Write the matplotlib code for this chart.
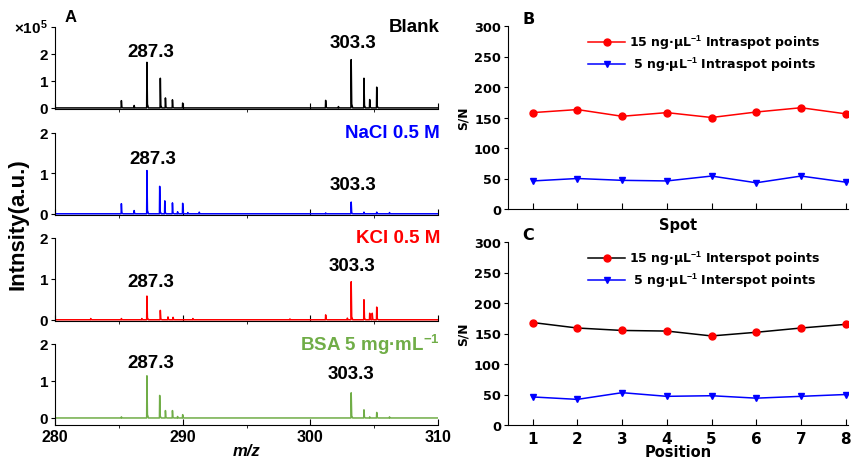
import matplotlib
matplotlib.use("Agg")
import matplotlib.pyplot as plt
import numpy as np

plt.rcParams['font.family'] = ['Liberation Sans', 'DejaVu Sans']
plt.rcParams['font.weight'] = 'bold'
plt.rcParams['mathtext.fontset'] = 'custom'
plt.rcParams['mathtext.rm'] = 'Liberation Sans:bold'
plt.rcParams['mathtext.bf'] = 'Liberation Sans:bold'
plt.rcParams['mathtext.it'] = 'Liberation Sans:bold:italic'
plt.rcParams['mathtext.default'] = 'bf'

WIDE = ['DejaVu Sans']

# ---------------- data: mass spectra (peak m/z and intensity, x10^5) ----------------
blank_mz = [285.2, 286.2, 287.2, 288.25, 288.65, 289.2, 290.0, 301.2, 302.2, 303.2, 304.2, 304.65, 305.2]
blank_int = [0.27, 0.09, 1.69, 1.10, 0.37, 0.30, 0.18, 0.28, 0.05, 1.79, 1.10, 0.31, 0.77]

nacl_mz = [285.2, 286.2, 287.2, 288.2, 288.6, 289.2, 289.6, 290.0, 290.4, 291.3, 301.2, 303.2, 304.2, 305.2, 306.2]
nacl_int = [0.25, 0.08, 1.07, 0.68, 0.32, 0.27, 0.05, 0.26, 0.03, 0.04, 0.02, 0.29, 0.04, 0.04, 0.03]

kcl_mz = [282.8, 285.2, 286.8, 287.2, 288.25, 288.85, 289.25, 290.8, 298.4, 301.2, 302.9, 303.2, 304.2, 304.65, 304.85, 305.2]
kcl_int = [0.03, 0.03, 0.03, 0.58, 0.23, 0.07, 0.06, 0.03, 0.02, 0.12, 0.04, 0.93, 0.49, 0.16, 0.16, 0.31]

bsa_mz = [285.2, 287.2, 288.2, 288.65, 289.2, 289.6, 290.0, 303.2, 304.2, 304.65, 305.2, 306.2]
bsa_int = [0.03, 1.14, 0.61, 0.20, 0.20, 0.04, 0.09, 0.68, 0.22, 0.03, 0.15, 0.03]

# ---------------- data: S/N values ----------------
positions = [1, 2, 3, 4, 5, 6, 7, 8]
intra_15 = [158, 163, 152, 158, 150, 159, 166, 156]
intra_5 = [46, 50, 47, 46, 54, 43, 54, 44]
inter_15 = [168, 159, 155, 154, 146, 152, 159, 165]
inter_5 = [46, 42, 53, 47, 48, 44, 47, 50]

fig = plt.figure(figsize=(8.63, 4.60), dpi=100)
W, H = 863.0, 460.0

def ax_px(left, top, right, bottom):
    return fig.add_axes([left / W, 1 - bottom / H, (right - left) / W, (bottom - top) / H])

spectra = [
    (blank_mz, blank_int, 'black', 'Blank', (28, 110), (-0.04, 3.0),
     [(287.48, 2.11), (303.34, 2.44)]),
    (nacl_mz, nacl_int, '#0000FF', 'NaCl 0.5 M', (134, 216), (-0.03, 2.0),
     [(287.63, 1.37), (303.34, 0.72)]),
    (kcl_mz, kcl_int, '#FF0000', 'KCl 0.5 M', (239, 322), (-0.03, 2.0),
     [(287.48, 0.93), (303.3, 1.32)]),
    (bsa_mz, bsa_int, '#70AD47', r'BSA 5 mg·mL$^{-1}$', (345, 426), (-0.19, 2.0),
     [(287.48, 1.51), (303.18, 1.19)]),
]

for i, (mz, inten, col, name, (top, bot), ylim, labpos) in enumerate(spectra):
    ax = ax_px(55, top, 438, bot)
    xs = [280.0]
    ys = [0.0]
    for m, h in sorted(zip(mz, inten)):
        xs += [m - 0.02, m, m + 0.04, m + 0.12]
        ys += [0.0, h, h * 0.08, 0.0]
    xs.append(310.0)
    ys.append(0.0)
    ax.plot(xs, ys, color=col, lw=1.1)
    ax.set_xlim(280, 310)
    ax.set_ylim(*ylim)
    if i == 0:
        ax.set_yticks([0, 1, 2, 3])
        ax.set_yticklabels(['0', '1', '2', ''])
    else:
        ax.set_yticks([0, 1, 2])
    ax.set_xticks([280, 290, 300, 310])
    ax.set_xticks([285, 295, 305], minor=True)
    ax.spines['top'].set_visible(False)
    ax.spines['right'].set_visible(False)
    ax.tick_params(axis='y', direction='out', length=3, labelsize=11, pad=2)
    ax.tick_params(axis='x', which='major', direction='in', length=4, labelsize=11.5, pad=3)
    ax.tick_params(axis='x', which='minor', direction='out', length=2)
    if i < 3:
        ax.tick_params(axis='x', labelbottom=False)
    for t in ax.get_xticklabels() + ax.get_yticklabels():
        t.set_fontweight('bold')
    ax.text(1.005, 1.0, name, transform=ax.transAxes, ha='right', va='center',
            color=col, fontsize=13.5, fontweight='bold')
    for (lx, ly), lab in zip(labpos, ['287.3', '303.3']):
        ax.text(lx, ly, lab, ha='center', va='center', fontsize=13.5, fontweight='bold')
    if i == 3:
        ax.set_xlabel('m/z', fontsize=12, fontweight='bold', style='italic', labelpad=-1)

fig.text(31 / W, 1 - 28 / H, r'×10$^{5}$', ha='center', va='center', fontsize=11, fontweight='bold')
fig.text(71 / W, 1 - 17 / H, 'A', ha='center', va='center', fontsize=12, fontweight='bold')
fig.text(18 / W, 1 - 224 / H, 'Intnsity(a.u.)', rotation=90, ha='center', va='center',
         fontsize=16, fontweight='bold')

# ---------------- right panels ----------------
def sn_panel(top, bot, s15, s5, line15, lab15, lab5, xlabel, show_xt, letter):
    ax = ax_px(508, top, 848, bot)
    ax.plot(positions, s15, color=line15, lw=1.1, marker='o', ms=5,
            mfc='#FF0000', mec='#FF0000', label=lab15)
    ax.plot(positions, s5, color='#0000FF', lw=1.1, marker='v', ms=5,
            mfc='#0000FF', mec='#0000FF', label=lab5)
    ax.set_xlim(0.45, 8.05)
    ax.set_ylim(0, 300)
    ax.set_xticks(positions)
    ax.set_yticks(np.arange(0, 301, 50))
    ax.spines['top'].set_visible(False)
    ax.spines['right'].set_visible(False)
    ax.tick_params(axis='y', direction='out', length=3, labelsize=9.3, pad=2)
    ax.tick_params(axis='x', direction='in', length=4, labelsize=11, pad=4)
    if not show_xt:
        ax.tick_params(axis='x', labelbottom=False)
    for t in ax.get_xticklabels() + ax.get_yticklabels():
        t.set_fontweight('bold')
        t.set_family(WIDE)
    ax.set_ylabel('S/N', fontsize=8.8, fontweight='bold', labelpad=3, family=WIDE)
    ax.set_xlabel(xlabel, fontsize=10.5, fontweight='bold', labelpad=-1 if show_xt else 6,
                  family=WIDE)
    leg = ax.legend(loc='upper left', bbox_to_anchor=(0.22, 0.99), frameon=False,
                    prop={'family': WIDE, 'weight': 'bold', 'size': 9},
                    handlelength=3.0, handletextpad=0.3, labelspacing=0.3,
                    borderaxespad=0)
    ax.text(14 / 340, 1 - (-7) / 183, letter, transform=ax.transAxes, ha='left', va='center',
            fontsize=11.5, fontweight='bold', family=WIDE)
    return ax

sn_panel(27, 210, intra_15, intra_5, '#FF0000',
         r'15 ng·μL$^{-1}$ Intraspot points', r' 5 ng·μL$^{-1}$ Intraspot points',
         'Spot', False, 'B')
sn_panel(243, 426, inter_15, inter_5, 'black',
         r'15 ng·μL$^{-1}$ Interspot points', r' 5 ng·μL$^{-1}$ Interspot points',
         'Position', True, 'C')

fig.savefig('out.png', dpi=100)
